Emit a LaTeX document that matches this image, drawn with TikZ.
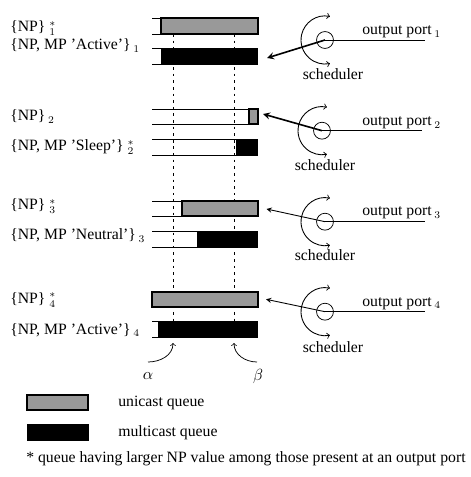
\documentclass[tikz,border=0pt]{standalone}
\usepackage{fontspec}
\setmainfont{Liberation Serif}
\tikzset{
  ucast/.style={draw,fill=black!40,line width=.7pt},
  mcast/.style={fill=black},
  qline/.style={line width=.45pt},
  lbl/.style={anchor=base west,inner sep=0pt},
  sched/.style={circle,draw,minimum size=11.5pt,inner sep=0pt,line width=.5pt},
  turn/.style={<->,line width=.6pt},
  grant/.style={-stealth,line width=#1},
}
\begin{document}
\begin{tikzpicture}[x=.68pt,y=.68pt,every node/.style={font=\fontsize{10.7}{13}\selectfont}]
    \useasboundingbox (0,0) rectangle (470,-477);
    % the two time marks
    \coordinate (a0) at (173,-34); \coordinate (a1) at (173,-337);
    \coordinate (b0) at (234,-34); \coordinate (b1) at (234,-337);
    \draw[dash pattern=on 1.8pt off 2.7pt,line width=.5pt] (a0) -- (a1) (b0) -- (b1);
    % queues of port 1
    \draw[qline] (152,-18) -- (258,-18) (152,-34) -- (258,-34);
    \draw[ucast] (161,-18) rectangle (258,-34);
    \draw[qline] (152,-48) -- (258,-48) (152,-64) -- (258,-64);
    \fill[mcast] (161,-48) rectangle (258,-64);
    % queues of port 2
    \draw[qline] (152,-109) -- (258,-109) (152,-124) -- (258,-124);
    \draw[ucast] (249,-109) rectangle (258,-124);
    \draw[qline] (152,-139) -- (258,-139) (152,-155) -- (258,-155);
    \fill[mcast] (236,-139) rectangle (258,-155);
    % queues of port 3
    \draw[qline] (152,-201) -- (258,-201) (152,-216) -- (258,-216);
    \draw[ucast] (182,-201) rectangle (258,-216);
    \draw[qline] (152,-231) -- (258,-231) (152,-247) -- (258,-247);
    \fill[mcast] (197,-231) rectangle (258,-247);
    % queues of port 4
    \draw[ucast] (152,-292) rectangle (258,-307);
    \draw[qline] (152,-321) -- (258,-321) (152,-337) -- (258,-337);
    \fill[mcast] (158,-321) rectangle (258,-337);
    % queue names
    \node[lbl] (n1u) at (10,-32) {\{NP\} $^*_1$};
    \node[lbl] (n1m) at (10,-50) {\{NP, MP 'Active'\}\,$_1$};
    \node[lbl] (n2u) at (10,-121) {\{NP\}\,$_2$};
    \node[lbl] (n2m) at (10,-151) {\{NP, MP 'Sleep'\} $^*_2$};
    \node[lbl] (n3u) at (10,-210) {\{NP\} $^*_3$};
    \node[lbl] (n3m) at (10,-240) {\{NP, MP 'Neutral'\}\,$_3$};
    \node[lbl] (n4u) at (10,-303.5) {\{NP\} $^*_4$};
    \node[lbl] (n4m) at (10,-334) {\{NP, MP 'Active'\}\,$_4$};
    % schedulers
    \node[sched] (s1) at (325,-40) {};
    \draw[turn] ([shift={(78:24)}]s1.center) arc[start angle=78,end angle=282,radius=24];
    \coordinate (p1) at (425,-40);
    \draw[qline] (s1.center) -- (p1);
    \node[lbl] (o1) at (362,-35) {output port\,$_1$};
    \node (c1) at (333,-74) {scheduler};
    \coordinate (t1) at (267,-58);
    \draw[grant=1.1pt] (s1.center) -- (t1);

    \node[sched] (s2) at (322,-130.7) {};
    \draw[turn] ([shift={(78:24)}]s2.center) arc[start angle=78,end angle=282,radius=24];
    \coordinate (p2) at (422,-130.7);
    \draw[qline] (s2.center) -- (p2);
    \node[lbl] (o2) at (362,-126) {output port\,$_2$};
    \node (c2) at (325,-165) {scheduler};
    \coordinate (t2) at (263,-114);
    \draw[grant=1.1pt] (s2.center) -- (t2);

    \node[sched] (s3) at (325,-221.7) {};
    \draw[turn] ([shift={(78:24)}]s3.center) arc[start angle=78,end angle=282,radius=24];
    \coordinate (p3) at (425,-221.7);
    \draw[qline] (s3.center) -- (p3);
    \node[lbl] (o3) at (362,-216) {output port\,$_3$};
    \node (c3) at (325,-255) {scheduler};
    \coordinate (t3) at (266.5,-209);
    \draw[grant=.6pt] (s3.center) -- (t3);

    \node[sched] (s4) at (325,-311.7) {};
    \draw[turn] ([shift={(78:24)}]s4.center) arc[start angle=78,end angle=282,radius=24];
    \coordinate (p4) at (425,-311.7);
    \draw[qline] (s4.center) -- (p4);
    \node[lbl] (o4) at (362,-306.5) {output port\,$_4$};
    \node (c4) at (333,-347) {scheduler};
    \coordinate (t4) at (266,-299.3);
    \draw[grant=.6pt] (s4.center) -- (t4);
    % alpha and beta
    \coordinate (a2) at (148,-362); \coordinate (a3) at (173,-343);
    \coordinate (b2) at (257,-362); \coordinate (b3) at (234,-343);
    \draw[->,line width=.5pt] (a2) to[out=0,in=270] (a3);
    \draw[->,line width=.5pt] (b2) to[out=180,in=270] (b3);
    \node (al) at (148,-376) {$\alpha$};
    \node (be) at (258,-376) {$\beta$};
    % legend
    \draw[ucast] (27,-395) rectangle (88,-410);
    \node[anchor=west,inner sep=0pt] (lu) at (118,-402.5) {unicast queue};
    \fill[mcast] (27,-424) rectangle (89,-440.7);
    \node[anchor=west,inner sep=0pt] (lm) at (118,-432.5) {multicast queue};
    \node[anchor=west,inner sep=0pt] (fn) at (26,-459)
        {* queue having larger NP value among those present at an output port};
\end{tikzpicture}
\end{document}
